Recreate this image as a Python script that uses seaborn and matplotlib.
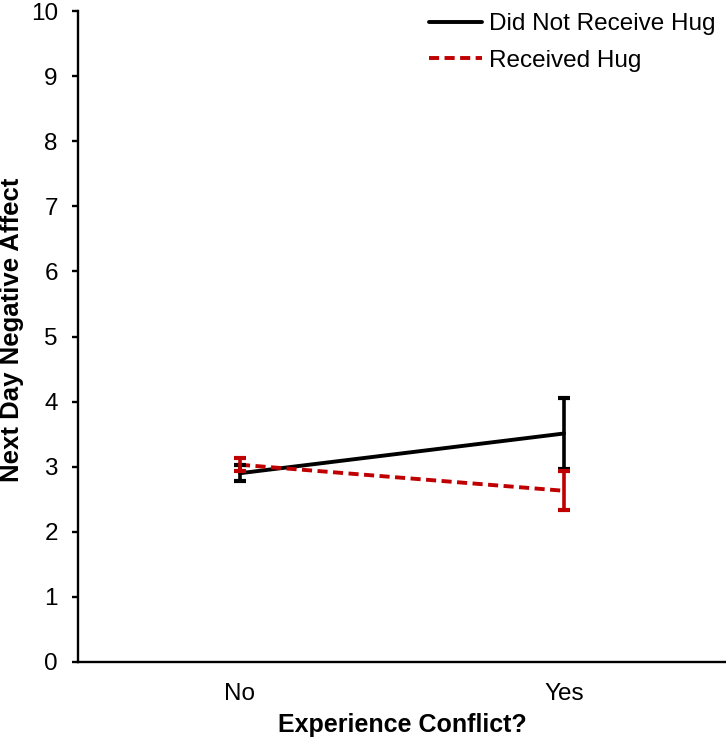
import pandas as pd
import matplotlib.pyplot as plt
import seaborn as sns

conflict = ['No', 'Yes']
groups = ['Did Not Receive Hug', 'Received Hug']
no_hug_mean = [2.90, 3.51]
no_hug_err = [0.12, 0.55]
hug_mean = [3.03, 2.63]
hug_err = [0.10, 0.30]

sns.set_style('white')
plt.rcParams['font.family'] = ['Liberation Sans', 'DejaVu Sans']

df = pd.DataFrame({
    'Experience Conflict?': conflict * 2,
    'Next Day Negative Affect': no_hug_mean + hug_mean,
    'err': no_hug_err + hug_err,
    'group': [groups[0]] * 2 + [groups[1]] * 2,
})

colors = {groups[0]: 'black', groups[1]: '#C00000'}

fig = plt.figure(figsize=(7.26, 7.39), dpi=100)
ax = fig.add_axes([0.1074, 0.1042, 0.8926, 0.8809])

sns.lineplot(data=df, x='Experience Conflict?', y='Next Day Negative Affect',
             hue='group', style='group', palette=colors,
             dashes={groups[0]: '', groups[1]: (2.6, 1.4)},
             linewidth=2.8, ax=ax, sort=False)

for g in groups:
    sub = df[df['group'] == g]
    ax.errorbar(sub['Experience Conflict?'], sub['Next Day Negative Affect'],
                yerr=sub['err'], fmt='none', ecolor=colors[g],
                elinewidth=2.6, capsize=4.5, capthick=3, zorder=3)

ax.set_xlim(-0.5, 1.5)
ax.set_ylim(0, 10)
ax.set_yticks(range(0, 11))
sns.despine(ax=ax)
for s in ['left', 'bottom']:
    ax.spines[s].set_linewidth(1.7)
    ax.spines[s].set_color('black')

ax.tick_params(axis='y', length=4.5, width=1.7, color='black', pad=10,
               labelsize=17.5, left=True, labelcolor='black')
ax.tick_params(axis='x', length=0, pad=15, labelsize=17.5, labelcolor='black')

ax.set_xlabel('Experience Conflict?', fontsize=18, fontweight='bold',
              color='black', labelpad=6)
ax.set_ylabel('Next Day Negative Affect', fontsize=18.5, fontweight='bold',
              color='black')
ax.yaxis.set_label_coords(-0.084, 0.51)

ax.legend(loc='upper right', bbox_to_anchor=(1.018, 1.03), frameon=False,
          fontsize=17.5, handlelength=2.2, handletextpad=0.3,
          labelspacing=0.6, labelcolor='black')

fig.savefig('out.png', dpi=100)
